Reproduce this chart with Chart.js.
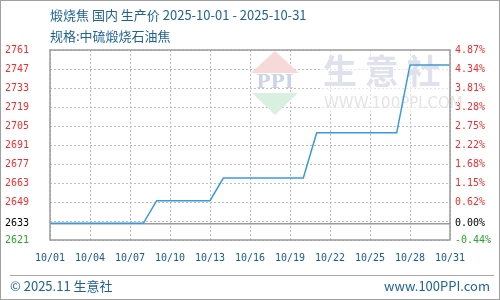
<!DOCTYPE html>
<html>
<head>
<meta charset="utf-8">
<script src="https://cdn.jsdelivr.net/npm/chart.js@4.4.0/dist/chart.umd.min.js"></script>
<style>
  body { margin: 0; background: #fff; }
  #wrap { position: relative; width: 500px; height: 300px; box-sizing: border-box; border: 1px solid #a0a0a0; overflow: hidden; }
  #c { position: absolute; left: -1px; top: -1px; }
  .t { position: absolute; font-family: "Noto Sans CJK SC", sans-serif; font-size: 13px; color: #1f6394; white-space: nowrap; line-height: 16px; }
  #sep { position: absolute; left: 9px; top: 274px; width: 484px; height: 1px; background: #a8a8a8; }
</style>
</head>
<body>
<div id="wrap">
  <canvas id="c" width="500" height="300"></canvas>
  <div class="t" style="left:49px; top:6px;">煅烧焦 国内 生产价 2025-10-01 - 2025-10-31</div>
  <div class="t" style="left:49px; top:27px;">规格:中硫煅烧石油焦</div>
  <div id="sep"></div>
  <div class="t" style="left:9px; top:277px;">© 2025.11 生意社</div>
  <div class="t" style="right:9px; top:277px;">www.100PPI.com</div>
</div>
<script>
// data
var dates = ["10/01","10/02","10/03","10/04","10/05","10/06","10/07","10/08","10/09","10/10",
             "10/11","10/12","10/13","10/14","10/15","10/16","10/17","10/18","10/19","10/20",
             "10/21","10/22","10/23","10/24","10/25","10/26","10/27","10/28","10/29","10/30","10/31"];
var prices = [2633.33,2633.33,2633.33,2633.33,2633.33,2633.33,2633.33,2633.33,
              2650,2650,2650,2650,2650,
              2666.67,2666.67,2666.67,2666.67,2666.67,2666.67,2666.67,
              2700,2700,2700,2700,2700,2700,2700,
              2750,2750,2750,2750];
var baseValue = 2633;
var yMin = 2621, yMax = 2761, yStep = 14;
var yTicks = [2761,2747,2733,2719,2705,2691,2677,2663,2649,2633,2621];
var pctTicks = ["4.87%","4.34%","3.81%","3.28%","2.75%","2.22%","1.68%","1.15%","0.62%","0.00%","-0.44%"];

Chart.defaults.font.family = "'DejaVu Sans Mono', monospace";
Chart.defaults.font.size = 10;

function build_y_ticks(scale){
    var vals = yTicks.slice();
    for (var v = yMin; v <= yMax; v += yStep){
        if (vals.indexOf(v) < 0) vals.push(v);
    }
    vals.sort(function(a,b){ return a-b; });
    scale.ticks = vals.map(function(v){ return {value: v}; });
}

function tick_color(ctx){
    var v = ctx.tick.value;
    if (v === baseValue) return "#000000";
    if (v < baseValue) return "#2ea52e";
    return "#f03030";
}

var frame = {
    id: "frame",
    beforeDatasetsDraw: function(chart){
        var ctx = chart.ctx;
        ctx.save();
        // watermark
        ctx.fillStyle = "rgba(255,255,255,0.6)";
        ctx.fillRect(322, 50, 128, 62);
        ctx.fillStyle = "#f7d9d9";
        ctx.beginPath(); ctx.moveTo(275,51); ctx.lineTo(299,73); ctx.lineTo(251,73); ctx.closePath(); ctx.fill();
        ctx.fillStyle = "#d9efdf";
        ctx.beginPath(); ctx.moveTo(252,93); ctx.lineTo(298,93); ctx.lineTo(275,115); ctx.closePath(); ctx.fill();
        ctx.fillStyle = "#cdd4e8";
        ctx.font = "bold 19px 'DejaVu Serif', serif";
        ctx.textAlign = "center"; ctx.textBaseline = "middle";
        ctx.fillText("PPI", 275, 83);
        ctx.fillStyle = "#dfe2ec";
        ctx.font = "bold 34px 'Noto Sans CJK SC', sans-serif";
        ctx.textAlign = "left";
        ctx.fillText("生 意 社", 323, 71);
        ctx.fillStyle = "#e4e4e4";
        ctx.font = "15px 'DejaVu Sans', sans-serif";
        ctx.fillText("WWW.100PPI.COM", 324, 104);
        // base line
        var y = chart.scales.y.getPixelForValue(baseValue);
        var a = chart.chartArea;
        ctx.strokeStyle = "#9a9a9a";
        ctx.lineWidth = 1.5;
        ctx.beginPath(); ctx.moveTo(a.left, y); ctx.lineTo(a.right, y); ctx.stroke();
        ctx.restore();
    },
    afterDraw: function(chart){
        var ctx = chart.ctx, a = chart.chartArea;
        ctx.save();
        ctx.strokeStyle = "#9a9a9a";
        ctx.lineWidth = 1.5;
        ctx.strokeRect(a.left, a.top, a.right - a.left, a.bottom - a.top);
        ctx.restore();
    }
};

new Chart(document.getElementById("c"), {
    type: "line",
    data: {
        labels: dates,
        datasets: [{
            data: prices,
            borderColor: "#3a9ad9",
            borderWidth: 1.5,
            pointRadius: 0,
            tension: 0,
            fill: false
        }]
    },
    options: {
        responsive: false,
        animation: false,
        devicePixelRatio: 1,
        layout: { padding: { left: 5, right: 0, top: 50, bottom: 30 } },
        plugins: { legend: { display: false }, tooltip: { enabled: false } },
        scales: {
            x: {
                offset: false,
                grid: { color: "#bdbdbd", lineWidth: 1, drawTicks: false, offset: false },
                border: { display: false, dash: [2, 2] },
                ticks: {
                    autoSkip: false, maxRotation: 0, padding: 12, color: "#1a5c8c",
                    callback: function(val, idx){ return idx % 3 === 0 ? this.getLabelForValue(val) : null; }
                },
                afterFit: function(s){ s.height = 30; }
            },
            y: {
                position: "left",
                min: yMin, max: yMax,
                afterBuildTicks: build_y_ticks,
                grid: {
                    drawTicks: false, lineWidth: 1,
                    color: function(ctx){ return ctx.tick && ctx.tick.value === baseValue ? "rgba(0,0,0,0)" : "#bdbdbd"; }
                },
                border: { display: false, dash: [2, 2] },
                ticks: {
                    autoSkip: false, crossAlign: "far", color: tick_color,
                    callback: function(v){ return yTicks.indexOf(v) >= 0 ? String(v) : ""; }
                },
                afterFit: function(s){ s.width = 45; }
            },
            y2: {
                position: "right",
                min: yMin, max: yMax,
                afterBuildTicks: build_y_ticks,
                grid: { display: false, drawTicks: false },
                border: { display: false },
                ticks: {
                    autoSkip: false, padding: 5, color: tick_color,
                    callback: function(v){ var i = yTicks.indexOf(v); return i >= 0 ? pctTicks[i] : ""; }
                },
                afterFit: function(s){ s.width = 50; }
            }
        }
    },
    plugins: [frame]
});
</script>
</body>
</html>
